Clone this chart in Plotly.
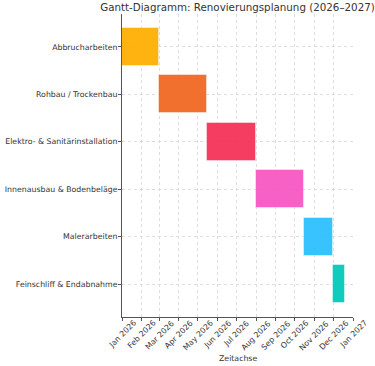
import plotly.graph_objects as go
import pandas as pd

tasks = ["Abbrucharbeiten", "Rohbau / Trockenbau", "Elektro- & Sanitärinstallation",
         "Innenausbau & Bodenbeläge", "Malerarbeiten", "Feinschliff & Endabnahme"]
starts = ["2026-01-01", "2026-03-01", "2026-05-15", "2026-08-01", "2026-10-15", "2026-12-01"]
ends = ["2026-02-28", "2026-05-15", "2026-07-31", "2026-10-15", "2026-11-30", "2026-12-20"]
colors = ["#FFAE00", "#F2661E", "#F52F57", "#F756C2", "#29BFFF", "#00C9B9"]

tick_dates = pd.date_range("2026-01-01", "2027-01-01", freq="MS")
tick_labels = [d.strftime("%b %Y") for d in tick_dates]

fig = go.Figure()
for i, (t, s, e, c) in enumerate(zip(tasks, starts, ends, colors)):
    dur = (pd.Timestamp(e) - pd.Timestamp(s)).total_seconds() * 1000
    fig.add_trace(go.Bar(
        y=[i], x=[dur], base=[s], orientation="h", width=0.8,
        marker=dict(color=c, line=dict(color="rgba(255,255,255,0.45)", width=1)),
        opacity=0.93, showlegend=False, hoverinfo="skip"))

font_family = "DejaVu Sans"
fs = 7.8
text_color = "#333333"

# rotated, centred tick labels (matplotlib-style) as annotations
for d, lab in zip(tick_dates, tick_labels):
    fig.add_annotation(x=d.strftime("%Y-%m-%d"), xref="x", y=0, yref="paper",
                       text=lab, textangle=-45, showarrow=False,
                       xanchor="center", yanchor="top", yshift=1,
                       font=dict(size=fs, color=text_color, family=font_family))
fig.add_annotation(x=0.5, xref="paper", y=0, yref="paper", text="Zeitachse",
                   showarrow=False, xanchor="center", yanchor="middle", yshift=-41,
                   font=dict(size=fs, color=text_color, family=font_family))

fig.update_layout(
    width=375, height=366,
    margin=dict(l=122, r=22, t=14, b=49),
    paper_bgcolor="white", plot_bgcolor="white",
    font=dict(family=font_family, size=fs, color=text_color),
    title=dict(text="Gantt-Diagramm: Renovierungsplanung (2026–2027)",
               x=237.5 / 375, xanchor="center",
               y=1 - 7 / 366, yanchor="middle", yref="container",
               font=dict(size=10.3, color=text_color, family=font_family)),
    bargap=0,
)
fig.update_xaxes(
    type="date", range=["2026-01-01", "2027-01-01"], automargin=False,
    tickvals=[d.strftime("%Y-%m-%d") for d in tick_dates], showticklabels=False,
    ticks="outside", ticklen=3, tickcolor="#555555",
    showline=True, linecolor="#555555", linewidth=1, mirror=False,
    showgrid=True, gridcolor="#dddddd", griddash="dot", gridwidth=1,
    zeroline=False,
)
fig.update_yaxes(
    range=[5.69, -0.69], tickvals=list(range(len(tasks))), ticktext=tasks,
    automargin=False, ticklabelstandoff=-1,
    ticks="outside", ticklen=3, tickcolor="#555555",
    showline=True, linecolor="#555555", linewidth=1,
    showgrid=True, gridcolor="#dddddd", griddash="dot", gridwidth=1,
    zeroline=False,
)
fig.write_html("out.html", config={"displayModeBar": False},
               post_script="document.body.style.margin='0';document.body.style.padding='0';")
